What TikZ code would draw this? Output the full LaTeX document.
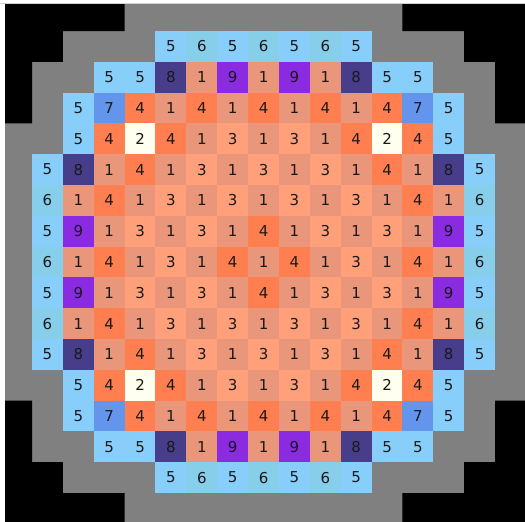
\documentclass[tikz,border=0pt]{standalone}
\usepackage{fontspec}
\setmainfont{DejaVu Sans}
\definecolor{c1}{RGB}{233,150,122}
\definecolor{c2}{RGB}{255,255,240}
\definecolor{c3}{RGB}{255,160,122}
\definecolor{c4}{RGB}{255,127,80}
\definecolor{c5}{RGB}{135,206,250}
\definecolor{c6}{RGB}{135,206,235}
\definecolor{c7}{RGB}{100,149,237}
\definecolor{c8}{RGB}{72,61,139}
\definecolor{c9}{RGB}{138,43,226}
\definecolor{refl}{RGB}{128,128,128}
\tikzset{
  cell/.style={anchor=north west, inner sep=0pt, outer sep=0pt,
    minimum width=30.9pt, minimum height=30.85pt, draw=none,
    text=black!90, font=\fontsize{15}{15}\selectfont},
  outside/.style={fill=black}
}
\begin{document}
\begin{tikzpicture}[x=1pt,y=-1pt]
\useasboundingbox (0,0) rectangle (525,522);
\fill[white] (0,0) rectangle (525,522);
\fill[gray!35] (0,2.5) rectangle (525,4);
\fill[refl] (5,4) rectangle (525,522);
% outside corners
\fill[outside] (5,4) -- (124.61,4) -- (124.61,31) -- (62.87,31) -- (62.87,61.8) -- (32,61.8) -- (32,123.4) -- (5,123.4) -- cycle;
\fill[outside] (525,4) -- (402.44,4) -- (402.44,31) -- (464.18,31) -- (464.18,61.8) -- (495.05,61.8) -- (495.05,123.4) -- (525,123.4) -- cycle;
\fill[outside] (5,522) -- (124.61,522) -- (124.61,493) -- (62.87,493) -- (62.87,462.2) -- (32,462.2) -- (32,400.6) -- (5,400.6) -- cycle;
\fill[outside] (525,522) -- (402.44,522) -- (402.44,493) -- (464.18,493) -- (464.18,462.2) -- (495.05,462.2) -- (495.05,400.6) -- (525,400.6) -- cycle;
% assemblies
\foreach \r/\s/\vals in {
  0/4/{5,6,5,6,5,6,5},
  1/2/{5,5,8,1,9,1,9,1,8,5,5},
  2/1/{5,7,4,1,4,1,4,1,4,1,4,7,5},
  3/1/{5,4,2,4,1,3,1,3,1,4,2,4,5},
  4/0/{5,8,1,4,1,3,1,3,1,3,1,4,1,8,5},
  5/0/{6,1,4,1,3,1,3,1,3,1,3,1,4,1,6},
  6/0/{5,9,1,3,1,3,1,4,1,3,1,3,1,9,5},
  7/0/{6,1,4,1,3,1,4,1,4,1,3,1,4,1,6},
  8/0/{5,9,1,3,1,3,1,4,1,3,1,3,1,9,5},
  9/0/{6,1,4,1,3,1,3,1,3,1,3,1,4,1,6},
  10/0/{5,8,1,4,1,3,1,3,1,3,1,4,1,8,5},
  11/1/{5,4,2,4,1,3,1,3,1,4,2,4,5},
  12/1/{5,7,4,1,4,1,4,1,4,1,4,7,5},
  13/2/{5,5,8,1,9,1,9,1,8,5,5},
  14/4/{5,6,5,6,5,6,5}}{
  \foreach \v [count=\i from 0] in \vals {
    \pgfmathtruncatemacro{\c}{\s+\i}
    \pgfmathsetmacro{\px}{32+30.87*\c}
    \pgfmathsetmacro{\py}{31+30.8*\r}
    \node[cell, fill=c\v] (n-\r-\c) at (\px,\py) {\v};
  }
}
\end{tikzpicture}
\end{document}
